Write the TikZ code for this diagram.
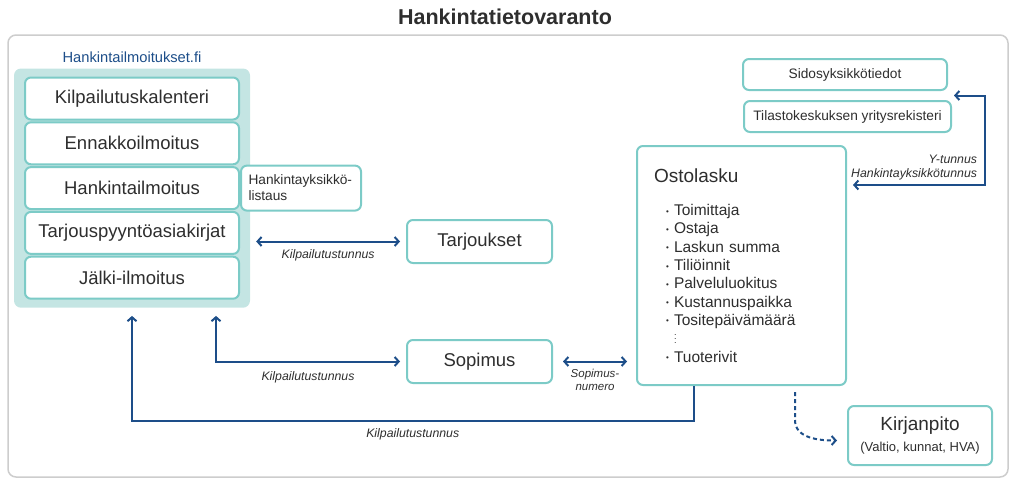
\documentclass[tikz,border=0pt]{standalone}
\usepackage{fontspec}
\setmainfont{Liberation Sans}
\usetikzlibrary{arrows.meta,positioning,calc,fit,backgrounds}
\definecolor{tealline}{HTML}{7CCBC7}
\definecolor{tealfill}{HTML}{C4E5E3}
\definecolor{linkblue}{HTML}{1D4E89}
\definecolor{framegray}{HTML}{CDCDCD}
\definecolor{txtgray}{HTML}{2E2E2E}
\tikzset{
  box/.style={draw=tealline, fill=white, line width=2pt, rounded corners=6pt, align=center, inner sep=3pt, text=txtgray, font=\fontsize{18.5}{21}\selectfont},
  colbox/.style={box, minimum width=214pt, minimum height=42pt},
  smallbox/.style={box, font=\fontsize{13.7}{16}\selectfont},
  panel/.style={fill=tealfill, rounded corners=7pt},
  frame/.style={draw=framegray, line width=1.5pt, rounded corners=8pt},
  titletext/.style={text=txtgray, font=\fontsize{21.5}{24}\selectfont\bfseries},
  sitetext/.style={text=linkblue, font=\fontsize{14.7}{17}\selectfont},
  lbl/.style={text=txtgray, inner sep=1pt, font=\fontsize{12.3}{14}\selectfont\itshape},
  twoway/.style={draw=linkblue, line width=2pt, {Straight Barb[length=4pt,width=9pt]}-{Straight Barb[length=4pt,width=9pt]}},
  oneway/.style={draw=linkblue, line width=2pt, -{Straight Barb[length=4pt,width=9pt]}},
  dashlink/.style={oneway, dash pattern=on 4pt off 3pt}
}
\newcommand{\blt}{\makebox[20pt][r]{\raisebox{1.5pt}{\footnotesize\textbullet}\hspace{5pt}}}

\begin{document}
\begin{tikzpicture}[x=1pt, y=-1pt]
\useasboundingbox (0,0) rectangle (1011,479);
\node[titletext] (title) at (505,17) {Hankintatietovaranto};
\draw[frame] (8,35) rectangle (1008,477);

% Hankintailmoitukset.fi column
\node[colbox] (kalenteri) at (132,98.5) {Kilpailutuskalenteri};
\node[colbox, below=0.8pt of kalenteri] (ennakko) {Ennakkoilmoitus};
\node[colbox, below=0.8pt of ennakko] (hilmo) {Hankintailmoitus};
\node[colbox, below=0.8pt of hilmo] (tarjouspyynto) {Tarjouspyyntöasiakirjat};
\node[colbox, below=0.8pt of tarjouspyynto] (jalki) {Jälki-ilmoitus};
\begin{scope}[on background layer]
\node[panel, fit=(kalenteri)(jalki), inner xsep=10pt, inner ysep=8pt] (panel) {};
\end{scope}
\node[sitetext, above=2pt of panel] (site) {Hankintailmoitukset.fi};
\node[smallbox, right=0pt of hilmo, minimum width=120pt, minimum height=45pt, text width=105pt, align=left, inner xsep=6pt] (listaus) {Hankintayksikkö-\\listaus};

\node[box, minimum width=145pt, minimum height=43pt] (tarjoukset) at (479.5,241.5) {Tarjoukset};
\node[box, minimum width=145pt, minimum height=43pt] (sopimus) at (479.5,361.5) {Sopimus};

\node[box, minimum width=209pt, minimum height=239pt, text width=175pt, align=left, inner xsep=17pt, font=\fontsize{15.5}{18.3}\selectfont] (ostolasku) at (741.5,265.5)
  {{\fontsize{19}{22}\selectfont Ostolasku}\\[14.7pt]
   \blt Toimittaja\\
   \blt Ostaja\\
   \blt Laskun summa\\
   \blt Tiliöinnit\\
   \blt Palveluluokitus\\
   \blt Kustannuspaikka\\
   \blt Tositepäivämäärä\\
   \hspace*{20pt}\smash{\small$\vdots$}\\
   \blt Tuoterivit};

\node[smallbox, minimum width=204pt, minimum height=31pt] (sidos) at (845,74.5) {Sidosyksikkötiedot};
\node[smallbox, minimum width=207pt, minimum height=31pt] (tilasto) at (847.5,116.5) {Tilastokeskuksen yritysrekisteri};
\node[box, minimum width=144pt, minimum height=59pt, font=\fontsize{19}{21}\selectfont] (kirjanpito) at (920,435.5) {Kirjanpito\\{\fontsize{13}{16}\selectfont (Valtio, kunnat, HVA)}};

% connectors
\draw[twoway] ($(panel.east |- tarjoukset.west)+(6pt,0)$) -- ([xshift=-6pt]tarjoukset.west)
  node[lbl, midway, below=6pt] {Kilpailutustunnus};
\draw[twoway] ($(panel.south)+(84pt,-8pt)$) |- ([xshift=-6pt]sopimus.west)
  node[lbl, pos=0.75, below=8pt] {Kilpailutustunnus};
\draw[oneway] ([xshift=-48pt]ostolasku.south) -- ++(0,-35pt) -| ($(panel.south)+(0,-8pt)$)
  node[lbl, pos=0.25, below=6pt] {Kilpailutustunnus};
\draw[twoway] ([xshift=10pt]sopimus.east) -- ($(ostolasku.west |- sopimus.east)+(-9pt,0)$)
  node[lbl, midway, below=6pt, align=center, font=\fontsize{11.5}{13}\selectfont\itshape] {Sopimus-\\numero};
\draw[twoway] ($(sidos.south east)!0.5!(tilasto.north east)+(4pt,0)$) -- ++(31pt,0) |- ($(ostolasku.north east)+(6pt,-40pt)$)
  node[lbl, pos=0.5, anchor=south east, xshift=-6pt, yshift=3pt, align=right] {Y-tunnus\\Hankintayksikkötunnus};
\draw[dashlink] ($(ostolasku.south)+(53.5pt,-6pt)$) -- ++(0,-28pt) to[out=-90, in=180] ([xshift=-10pt, yshift=-5pt]kirjanpito.west);
\end{tikzpicture}
\end{document}
